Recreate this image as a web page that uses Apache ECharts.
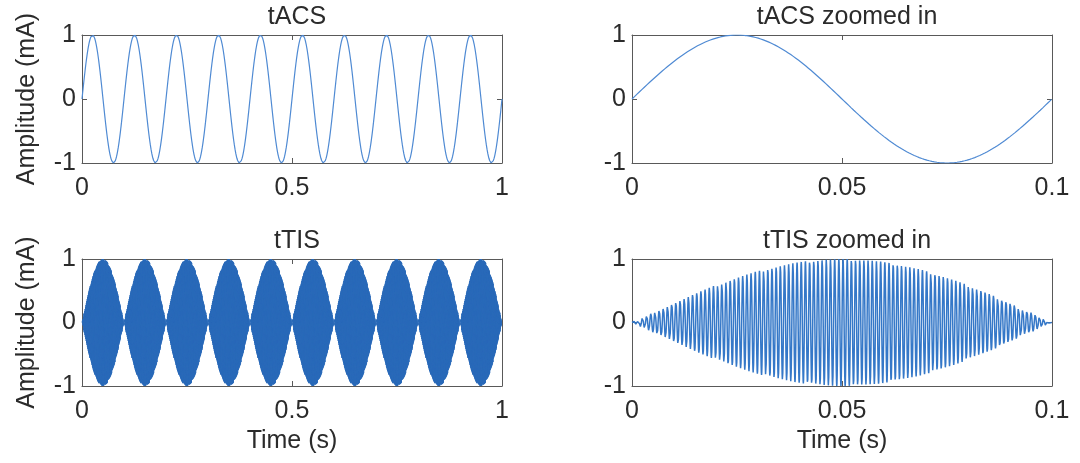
<!DOCTYPE html>
<html>
<head>
<meta charset="utf-8">
<script src="https://cdn.jsdelivr.net/npm/echarts@6/dist/echarts.min.js"></script>
<style>
html,body{margin:0;padding:0;background:#fff;}
#c{width:1080px;height:463px;}
</style>
</head>
<body>
<div id="c"></div>
<script>
// ---- values ----
const panelTitles = ['tACS', 'tACS zoomed in', 'tTIS', 'tTIS zoomed in'];
const xRanges = [[0, 1], [0, 0.1], [0, 1], [0, 0.1]];
const xTickIntervals = [0.5, 0.05, 0.5, 0.05];
const yRange = [-1, 1];
const yTickInterval = 1;
const yAxisName = 'Amplitude (mA)';
const xAxisName = 'Time (s)';
// tACS: 10 cycles per second, amplitude 1 mA
const tacsFrequency = [10];
const tacsAmplitude = [1];
// tTIS: two kHz carriers, 10 Hz beat (envelope zero at 0, 0.1, 0.2 ... s)
const ttisFrequencies = [1000, 1010];
const ttisAmplitude = [1];
const sampleRate = [20000];

// ---- sample the signals ----
function sampleSignal(fn, t0, t1) {
  const out = [];
  const n = Math.round((t1 - t0) * sampleRate[0]);
  for (let i = 0; i <= n; i++) {
    const t = t0 + (t1 - t0) * i / n;
    out.push([t, fn(t)]);
  }
  return out;
}
const tacs = t => tacsAmplitude[0] * Math.sin(2 * Math.PI * tacsFrequency[0] * t);
const ttis = t => ttisAmplitude[0] * 0.5 *
  (Math.sin(2 * Math.PI * ttisFrequencies[0] * t) - Math.sin(2 * Math.PI * ttisFrequencies[1] * t));
const signals = [tacs, tacs, ttis, ttis];

// ---- layout ----
const grids = [
  {left: 82, top: 35, width: 420, height: 128},
  {left: 632, top: 35, width: 420, height: 128},
  {left: 82, top: 259, width: 420, height: 127},
  {left: 632, top: 259, width: 420, height: 127}
];
const lineColors = ['#4f8ad3', '#4f8ad3', '#2a6ab9', '#3578c8'];
const lineWidths = [1.2, 1.2, 1, 1.5];
const axisColor = '#595959';
const textColor = '#2b2b2b';
const font = 'Liberation Sans, Arial, sans-serif';
const fs = 25;

const xAxes = [], yAxes = [], series = [], titles = [];
panelTitles.forEach((title, i) => {
  const isLeft = (i % 2 === 0);
  const isBottom = (i >= 2);
  titles.push({
    text: title, left: grids[i].left + grids[i].width / 2, top: grids[i].top - 35,
    textAlign: 'center',
    textStyle: {fontSize: fs, fontWeight: 'normal', color: textColor, fontFamily: font}
  });
  const fmt = v => {
    if (Math.abs(v) < 1e-9) return '0';
    return String(parseFloat(v.toFixed(4)));
  };
  const line = {show: true, onZero: false, lineStyle: {color: axisColor, width: 1}};
  const tick = {show: true, inside: true, length: 5, lineStyle: {color: axisColor}};
  xAxes.push({
    gridIndex: i, type: 'value', position: 'bottom',
    min: xRanges[i][0], max: xRanges[i][1], interval: xTickIntervals[i],
    name: isBottom ? xAxisName : '', nameLocation: 'middle', nameGap: 43,
    nameTextStyle: {fontSize: fs, color: textColor, fontFamily: font},
    axisLine: line, axisTick: tick,
    axisLabel: {fontSize: fs, color: textColor, fontFamily: font, margin: 13, formatter: fmt},
    splitLine: {show: false}
  });
  xAxes.push({
    gridIndex: i, type: 'value', position: 'top',
    min: xRanges[i][0], max: xRanges[i][1], interval: xTickIntervals[i],
    axisLine: line, axisTick: tick,
    axisLabel: {show: false}, splitLine: {show: false}
  });
  yAxes.push({
    gridIndex: i, type: 'value', position: 'left',
    min: yRange[0], max: yRange[1], interval: yTickInterval,
    name: isLeft ? yAxisName : '', nameLocation: 'middle', nameGap: 42,
    nameTextStyle: {fontSize: fs, color: textColor, fontFamily: font},
    axisLine: line, axisTick: tick,
    axisLabel: {fontSize: fs, color: textColor, fontFamily: font, margin: 6},
    splitLine: {show: false}
  });
  yAxes.push({
    gridIndex: i, type: 'value', position: 'right',
    min: yRange[0], max: yRange[1], interval: yTickInterval,
    axisLine: line, axisTick: tick,
    axisLabel: {show: false}, splitLine: {show: false}
  });
  series.push({
    type: 'line', xAxisIndex: 2 * i, yAxisIndex: 2 * i,
    data: sampleSignal(signals[i], xRanges[i][0], xRanges[i][1]),
    showSymbol: false, symbol: 'none', smooth: false,
    lineStyle: {color: lineColors[i], width: lineWidths[i]},
    animation: false, silent: true, z: 1
  });
});

const chart = echarts.init(document.getElementById('c'), null, {renderer: 'canvas'});
chart.setOption({
  backgroundColor: '#ffffff',
  animation: false,
  title: titles,
  grid: grids,
  xAxis: xAxes,
  yAxis: yAxes,
  series: series
});
</script>
</body>
</html>
